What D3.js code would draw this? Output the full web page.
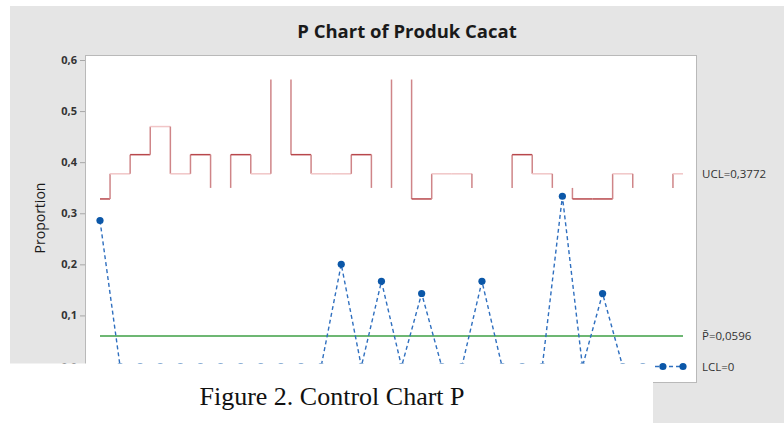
<!DOCTYPE html>
<html>
<head>
<meta charset="utf-8">
<script src="https://cdn.jsdelivr.net/npm/d3@7"></script>
<style>
  html, body { margin: 0; padding: 0; background: #ffffff; }
  svg { display: block; }
</style>
</head>
<body>
<svg id="chart" width="784" height="423"></svg>
<script>
// ---- data ----
const samples = d3.range(1, 31);
const proportion = [0.2857, 0, 0, 0, 0, 0, 0, 0, 0, 0,
                    0, 0, 0.2, 0, 0.1667, 0, 0.1429, 0, 0, 0.1667,
                    0, 0, 0, 0.3333, 0, 0.1429, 0, 0, 0, 0];
const ucl = [0.328, 0.3772, 0.4147, 0.4697, 0.3772, 0.4147, 0.3496, 0.4147, 0.3772, 0.5618,
             0.4147, 0.3772, 0.3772, 0.4147, 0.3496, 0.5618, 0.328, 0.3772, 0.3772, 0.3496,
             0.3496, 0.4147, 0.3772, 0.3496, 0.328, 0.328, 0.3772, 0.3496, 0.3496, 0.3772];
const pbar = 0.0596;
const lcl = 0;
const yTicks = [0, 0.1, 0.2, 0.3, 0.4, 0.5, 0.6];
const tickLabels = ["0,0", "0,1", "0,2", "0,3", "0,4", "0,5", "0,6"];
const refLabels = ["UCL=0,3772", "P\u0304=0,0596", "LCL=0"];
const title = "P Chart of Produk Cacat";
const yTitle = "Proportion";
const caption = "Figure 2. Control Chart P";

// ---- drawing ----
const svg = d3.select("#chart");
const x = d3.scaleLinear().domain([1, 30]).range([100, 683]);
const y = d3.scaleLinear().domain([0, 0.6]).range([366.5, 60]);

// grey panel
svg.append("rect").attr("x", 10).attr("y", 6).attr("width", 774).attr("height", 417).attr("fill", "#e5e5e5");
// plot area
svg.append("rect").attr("x", 85.5).attr("y", 55.5).attr("width", 611).attr("height", 327)
  .attr("fill", "#ffffff").attr("stroke", "#b9b9b9").attr("stroke-width", 1);

// title
svg.append("text").attr("x", 407).attr("y", 38).attr("text-anchor", "middle")
  .attr("font-family", "'Open Sans', 'Noto Sans', sans-serif").attr("font-weight", "bold")
  .attr("font-size", 18.5).attr("fill", "#1a1a1a").text(title);

// y axis
const yAxis = d3.axisLeft(y).tickValues(yTicks).tickSize(5).tickPadding(3)
  .tickFormat((d, i) => tickLabels[i]);
const gy = svg.append("g").attr("transform", "translate(85,0)").call(yAxis);
gy.select(".domain").remove();
gy.selectAll(".tick line").attr("stroke", "#a8a8a8");
gy.selectAll(".tick text").attr("font-family", "'Open Sans', 'Noto Sans', sans-serif")
  .attr("font-weight", "bold").attr("font-size", 11).attr("fill", "#333");

svg.append("text").attr("transform", "translate(45,218) rotate(-90)").attr("text-anchor", "middle")
  .attr("font-family", "'Open Sans', 'Noto Sans', sans-serif").attr("font-size", 14)
  .attr("fill", "#1a1a1a").text(yTitle);

// UCL step line
function levelColor(v) {
  if (Math.abs(v - 0.3496) < 0.005 || Math.abs(v - 0.5618) < 0.005) return "none";
  if (Math.abs(v - 0.3772) < 0.005 || Math.abs(v - 0.4697) < 0.005) return "#f1c6c7";
  return "#b8474b";
}
const gU = svg.append("g");
samples.forEach((s, i) => {
  const x0 = x(Math.max(1, s - 0.5)), x1 = x(Math.min(30, s + 0.5));
  gU.append("line").attr("x1", x0).attr("x2", x1).attr("y1", y(ucl[i])).attr("y2", y(ucl[i]))
    .attr("stroke", levelColor(ucl[i])).attr("stroke-width", 1.5);
  if (i < samples.length - 1) {
    gU.append("line").attr("x1", x1).attr("x2", x1).attr("y1", y(ucl[i])).attr("y2", y(ucl[i + 1]))
      .attr("stroke", "#cf8588").attr("stroke-width", 1.5);
  }
});

// centre line
svg.append("line").attr("x1", x(1)).attr("x2", x(30)).attr("y1", y(pbar)).attr("y2", y(pbar))
  .attr("stroke", "#3c9f45").attr("stroke-width", 1.6);

// data line
const line = d3.line().x((d, i) => x(samples[i])).y(d => y(d));
svg.append("path").datum(proportion).attr("d", line).attr("fill", "none")
  .attr("stroke", "#2f6fbf").attr("stroke-width", 1.4).attr("stroke-dasharray", "4,3");
svg.selectAll("circle.pt").data(proportion).enter().append("circle").attr("class", "pt")
  .attr("cx", (d, i) => x(samples[i])).attr("cy", d => y(d)).attr("r", 3.6).attr("fill", "#0b57a8");

// reference labels
const refY = [ucl[ucl.length - 1], pbar, lcl];
refLabels.forEach((t, i) => {
  svg.append("text").attr("x", 702).attr("y", y(refY[i])).attr("dy", "0.35em")
    .attr("font-family", "'Open Sans', 'Noto Sans', sans-serif").attr("font-size", 11.5)
    .attr("fill", "#333").text(t);
});

// caption area
svg.append("rect").attr("x", 0).attr("y", 363.5).attr("width", 653).attr("height", 60).attr("fill", "#ffffff");
svg.append("text").attr("x", 332).attr("y", 405).attr("text-anchor", "middle")
  .attr("font-family", "'Liberation Serif', 'Times New Roman', serif").attr("font-size", 26)
  .attr("fill", "#111").text(caption);
</script>
</body>
</html>
